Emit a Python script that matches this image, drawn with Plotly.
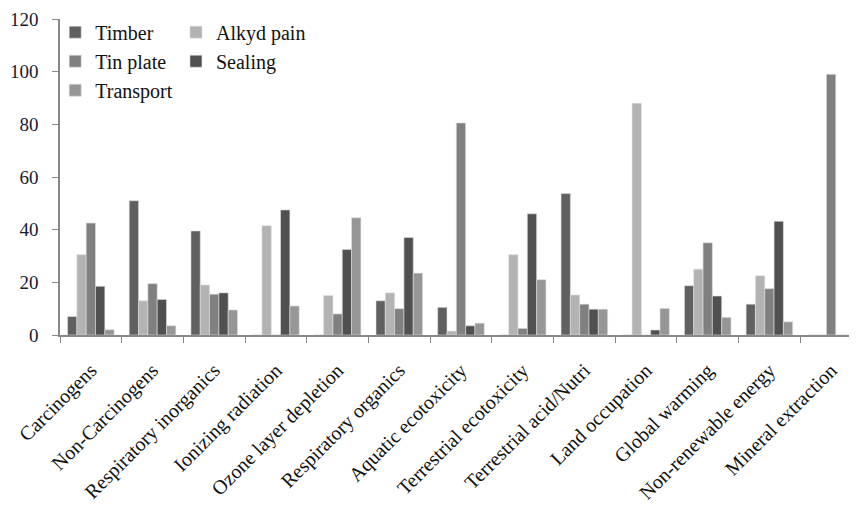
import plotly.graph_objects as go

categories = ["Carcinogens", "Non-Carcinogens", "Respiratory inorganics", "Ionizing radiation",
              "Ozone layer depletion", "Respiratory organics", "Aquatic ecotoxicity",
              "Terrestrial ecotoxicity", "Terrestrial acid/Nutri", "Land occupation",
              "Global warming", "Non-renewable energy", "Mineral extraction"]

timber    = [7, 51, 39.5, 0, 0, 13, 10.5, 0, 53.7, 0, 18.7, 11.7, 0]
alkyd     = [30.5, 13, 19, 41.5, 15, 16, 1.5, 30.5, 15.2, 88, 25, 22.5, 0]
tin_plate = [42.5, 19.5, 15.5, 0, 8, 10, 80.5, 2.5, 11.7, 0, 35, 17.6, 99]
sealing   = [18.5, 13.5, 16, 47.5, 32.5, 37, 3.5, 46, 9.8, 1.9, 14.8, 43.2, 0]
transport = [2, 3.5, 9.5, 11, 44.5, 23.5, 4.5, 21, 9.8, 10.1, 6.7, 5, 0]

y_ticks = [0, 20, 40, 60, 80, 100, 120]

series = [
    ("Timber", timber, "#606060", "legend"),
    ("Alkyd pain", alkyd, "#b3b3b3", "legend2"),
    ("Tin plate", tin_plate, "#808080", "legend"),
    ("Sealing", sealing, "#505050", "legend2"),
    ("Transport", transport, "#969696", "legend"),
]

FONT = "Liberation Serif, Times New Roman, serif"

fig = go.Figure()
for i, (name, vals, color, lg) in enumerate(series):
    fig.add_trace(go.Bar(
        x=categories, y=vals, name=name, legend=lg, legendgroup=name,
        marker=dict(color=color, line=dict(color="#dddddd", width=0.6)),
    ))

leg_common = dict(
    bgcolor="rgba(0,0,0,0)", font=dict(family=FONT, size=20, color="#111"),
    traceorder="grouped", tracegroupgap=0, yanchor="top", xanchor="left",
    itemwidth=30,
)

fig.update_layout(
    width=857, height=505,
    margin=dict(l=52, r=8, t=11, b=178, autoexpand=False),
    paper_bgcolor="white", plot_bgcolor="white",
    barmode="group", bargap=0.245, bargroupgap=0,
    font=dict(family=FONT, size=20, color="#111"),
    legend=dict(x=-0.006, y=1.02, **leg_common),
    legend2=dict(x=0.1455, y=1.02, **leg_common),
    xaxis=dict(
        type="category", range=[-0.5, 12.42], tickangle=-45, automargin=False,
        tickson="boundaries", ticks="outside", ticklen=6, tickcolor="#888",
        showline=True, linecolor="#888", linewidth=1.5, showgrid=False,
        tickfont=dict(family=FONT, size=20, color="#111"), ticklabelstandoff=14,
    ),
    yaxis=dict(
        range=[0, 120], tickvals=y_ticks, ticks="outside", ticklen=6, tickcolor="#888",
        automargin=False,
        showline=True, linecolor="#888", linewidth=1.5, showgrid=False, zeroline=False,
        tickfont=dict(family=FONT, size=19, color="#1a1a2e"), ticklabelstandoff=10,
    ),
)

fig.write_html("out.html")
